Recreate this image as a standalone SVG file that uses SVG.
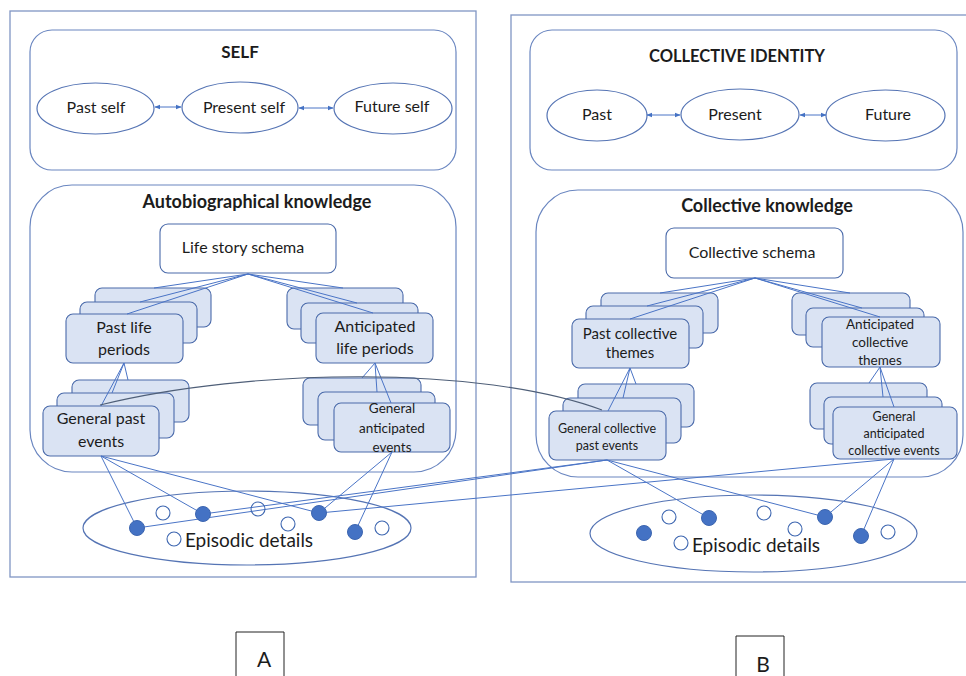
<svg xmlns="http://www.w3.org/2000/svg" width="966" height="676" viewBox="0 0 966 676">
  <style>
    .panel { fill: none; stroke: #8096c4; stroke-width: 1.3; }
    .frame { fill: #ffffff; stroke: #6a86c0; stroke-width: 1.2; }
    .oval { fill: #ffffff; stroke: #5574b4; stroke-width: 1.2; }
    .schema { fill: #ffffff; stroke: #4a6aaa; stroke-width: 1.1; }
    .card { fill: #dae3f3; stroke: #4a6aaa; stroke-width: 1.1; }
    .link { fill: none; stroke: #4a74c6; stroke-width: 1; }
    .arc { fill: none; stroke: #4f5f78; stroke-width: 1.1; }
    .dot { fill: #4472c4; stroke: #3d66b0; stroke-width: 1; }
    .ring { fill: none; stroke: #3d66b0; stroke-width: 1.1; }
    .lbl { stroke: #222; stroke-width: 1; fill: none; }
    text { font-family: Lato, "Open Sans", sans-serif; fill: #1c1c1c; text-anchor: middle; }
    .title { font-weight: bold; font-size: 17px; }
    .caps { font-weight: bold; font-size: 16.5px; }
    .head { font-weight: bold; font-size: 18px; }
    .t16 { font-size: 16px; }
    .t15 { font-size: 15px; }
    .t13 { font-size: 13.5px; }
    .t12 { font-size: 12.5px; }
    .big { font-size: 19px; }
    .letter { font-size: 21px; }
  </style>
  <defs>
    <marker id="head" viewBox="0 0 10 10" refX="9" refY="5" markerWidth="6" markerHeight="6" orient="auto-start-reverse">
      <path d="M0,1 L10,5 L0,9 z" fill="#4472c4"/>
    </marker>
  </defs>

  <!-- Panel A: individual memory -->
  <g id="panel-a">
    <rect class="panel" x="10" y="11" width="466" height="566"/>
  </g>
  <g id="self">
    <rect class="frame" x="30" y="30" width="426" height="140" rx="22"/>
    <text class="title" x="240" y="58">SELF</text>
  </g>
  <g id="past-self">
    <ellipse class="oval" cx="95.5" cy="108.5" rx="58.5" ry="25.5"/>
    <text class="t16" x="96" y="113">Past self</text>
  </g>
  <g id="present-self">
    <ellipse class="oval" cx="240" cy="107.5" rx="58" ry="25.5"/>
    <text class="t16" x="244" y="113">Present self</text>
  </g>
  <g id="future-self">
    <ellipse class="oval" cx="393" cy="108.5" rx="59" ry="25.5"/>
    <text class="t16" x="392" y="112">Future self</text>
  </g>

  <g id="autobiographical-knowledge">
    <rect class="frame" x="30" y="185" width="426" height="287" rx="42"/>
    <text class="head" x="257" y="208">Autobiographical knowledge</text>
  </g>
  <g id="life-story-schema">
    <rect class="schema" x="160" y="224" width="176" height="49" rx="8"/>
    <text class="t16" x="243" y="253">Life story schema</text>
  </g>
  <g id="past-life-periods">
    <rect class="card" x="95" y="288" width="116" height="39" rx="7"/>
    <rect class="card" x="80" y="302" width="117" height="41" rx="7"/>
    <rect class="card" x="66" y="314" width="117" height="49" rx="7"/>
    <text class="t16" x="124" y="333">Past life</text>
    <text class="t16" x="124" y="355">periods</text>
  </g>
  <g id="anticipated-life-periods">
    <rect class="card" x="287" y="288" width="116" height="41" rx="7"/>
    <rect class="card" x="301" y="303" width="117" height="40" rx="7"/>
    <rect class="card" x="316" y="313" width="117" height="50" rx="7"/>
    <text class="t16" x="375" y="332">Anticipated</text>
    <text class="t16" x="375" y="354">life periods</text>
  </g>
  <g id="general-past-events">
    <rect class="card" x="72" y="380" width="117" height="42" rx="7"/>
    <rect class="card" x="57" y="393" width="117" height="45" rx="7"/>
    <rect class="card" x="43" y="406" width="116" height="50" rx="7"/>
    <text class="t16" x="101" y="424">General past</text>
    <text class="t16" x="101" y="447">events</text>
  </g>
  <g id="general-anticipated-events">
    <rect class="card" x="303" y="378" width="118" height="47" rx="7"/>
    <rect class="card" x="318" y="392" width="117" height="48" rx="7"/>
    <rect class="card" x="334" y="403" width="116" height="49" rx="7"/>
    <text class="t13" x="392" y="413">General</text>
    <text class="t13" x="392" y="433">anticipated</text>
    <text class="t13" x="392" y="452">events</text>
  </g>
  <g id="episodic-details-a">
    <ellipse class="oval" cx="247" cy="528" rx="164" ry="37"/>
    <text class="big" x="249" y="547">Episodic details</text>
  </g>

  <!-- Panel B: collective memory -->
  <g id="panel-b">
    <rect class="panel" x="511" y="15" width="470" height="567"/>
  </g>
  <g id="collective-identity">
    <rect class="frame" x="530" y="30" width="427" height="140" rx="22"/>
    <text class="caps" x="737" y="62">COLLECTIVE IDENTITY</text>
  </g>
  <g id="past">
    <ellipse class="oval" cx="597" cy="115.5" rx="50" ry="25.5"/>
    <text class="t16" x="597" y="120">Past</text>
  </g>
  <g id="present">
    <ellipse class="oval" cx="740" cy="114.5" rx="59" ry="25.5"/>
    <text class="t16" x="735" y="120">Present</text>
  </g>
  <g id="future">
    <ellipse class="oval" cx="885.5" cy="115.5" rx="59.5" ry="25.5"/>
    <text class="t16" x="888" y="120">Future</text>
  </g>

  <g id="collective-knowledge">
    <rect class="frame" x="536" y="190" width="427" height="287" rx="42"/>
    <text class="head" x="767" y="212">Collective knowledge</text>
  </g>
  <g id="collective-schema">
    <rect class="schema" x="666" y="228" width="177" height="50" rx="8"/>
    <text class="t16" x="752" y="258">Collective schema</text>
  </g>
  <g id="past-collective-themes">
    <rect class="card" x="601" y="293" width="117" height="40" rx="7"/>
    <rect class="card" x="586" y="306" width="117" height="42" rx="7"/>
    <rect class="card" x="572" y="319" width="117" height="49" rx="7"/>
    <text class="t15" x="630" y="339">Past collective</text>
    <text class="t15" x="630" y="358">themes</text>
  </g>
  <g id="anticipated-collective-themes">
    <rect class="card" x="792" y="293" width="118" height="42" rx="7"/>
    <rect class="card" x="806" y="308" width="118" height="39" rx="7"/>
    <rect class="card" x="822" y="317" width="118" height="50" rx="7"/>
    <text class="t13" x="880" y="329">Anticipated</text>
    <text class="t13" x="880" y="347">collective</text>
    <text class="t13" x="880" y="365">themes</text>
  </g>
  <g id="general-collective-past-events">
    <rect class="card" x="578" y="384" width="116" height="43" rx="7"/>
    <rect class="card" x="563" y="398" width="118" height="45" rx="7"/>
    <rect class="card" x="549" y="411" width="117" height="49" rx="7"/>
    <text class="t12" x="607" y="433">General collective</text>
    <text class="t12" x="607" y="450">past events</text>
  </g>
  <g id="general-anticipated-collective-events">
    <rect class="card" x="810" y="383" width="117" height="46" rx="7"/>
    <rect class="card" x="824" y="397" width="118" height="47" rx="7"/>
    <rect class="card" x="833" y="407" width="124" height="52" rx="7"/>
    <text class="t12" x="894" y="421">General</text>
    <text class="t12" x="894" y="438">anticipated</text>
    <text class="t12" x="894" y="455">collective events</text>
  </g>
  <g id="episodic-details-b">
    <ellipse class="oval" cx="753.5" cy="533.5" rx="163.5" ry="38.5"/>
    <text class="big" x="756" y="552">Episodic details</text>
  </g>

  <!-- Connectors -->
  <g id="connectors">
    <!-- time links -->
    <line class="link" x1="155" y1="107" x2="181" y2="107" marker-start="url(#head)" marker-end="url(#head)"/>
    <line class="link" x1="299" y1="108" x2="333" y2="108" marker-start="url(#head)" marker-end="url(#head)"/>
    <line class="link" x1="647" y1="115" x2="680" y2="115" marker-start="url(#head)" marker-end="url(#head)"/>
    <line class="link" x1="800" y1="115" x2="826" y2="115" marker-start="url(#head)" marker-end="url(#head)"/>

    <!-- schema to periods -->
    <path class="link" d="M248,274 L154,288 M248,274 L140,302 M248,274 L127,314 M248,274 L343,288 M248,274 L357,303 M248,274 L373,313"/>
    <path class="link" d="M755,278 L660,293 M755,278 L647,306 M755,278 L630,319 M755,278 L850,293 M755,278 L862,308 M755,278 L880,317"/>

    <!-- periods to events -->
    <path class="link" d="M124,363 L128,380 M124,363 L112,393 M124,363 L101,406 M375,363 L362,378 M375,363 L377,392 M375,363 L391,403"/>
    <path class="link" d="M630,368 L636,384 M630,368 L623,398 M630,368 L608,411 M880,367 L869,383 M880,367 L883,397 M880,367 L894,407"/>

    <!-- events to episodic details -->
    <path class="link" d="M101,456 L137,528 M101,456 L203,514 M101,456 L319,513 M392,452 L319,513 M392,452 L355,532"/>
    <path class="link" d="M607,460 L709,518 M607,460 L825,517 M894,459 L825,517 M894,459 L861,536"/>

    <!-- cross-panel links -->
    <path class="link" d="M137,528 L607,460 M203,514 L607,460 M319,513 L894,459"/>
    <path class="arc" d="M100,405 C250,368 480,365 602,410"/>
  </g>

  <!-- Episodic detail points -->
  <g id="details-a">
    <circle class="dot" cx="137" cy="528" r="7.5"/>
    <circle class="dot" cx="203" cy="514" r="7.5"/>
    <circle class="dot" cx="319" cy="513" r="7.5"/>
    <circle class="dot" cx="355" cy="532" r="7.5"/>
    <circle class="ring" cx="163" cy="513" r="7"/>
    <circle class="ring" cx="258" cy="509" r="7"/>
    <circle class="ring" cx="288" cy="524" r="7"/>
    <circle class="ring" cx="174" cy="539" r="7"/>
    <circle class="ring" cx="382" cy="528" r="7"/>
  </g>
  <g id="details-b">
    <circle class="dot" cx="644" cy="533" r="7.5"/>
    <circle class="dot" cx="709" cy="518" r="7.5"/>
    <circle class="dot" cx="825" cy="517" r="7.5"/>
    <circle class="dot" cx="861" cy="536" r="7.5"/>
    <circle class="ring" cx="669" cy="517" r="7"/>
    <circle class="ring" cx="764" cy="513" r="7"/>
    <circle class="ring" cx="795" cy="529" r="7"/>
    <circle class="ring" cx="681" cy="543" r="7"/>
    <circle class="ring" cx="888" cy="532" r="7"/>
  </g>

  <!-- Panel labels -->
  <g id="label-a">
    <path class="lbl" d="M236,676 V632 H284 V676"/>
    <text class="letter" x="264" y="667">A</text>
  </g>
  <g id="label-b">
    <path class="lbl" d="M736,676 V636 H784 V676"/>
    <text class="letter" x="763" y="672">B</text>
  </g>
</svg>
